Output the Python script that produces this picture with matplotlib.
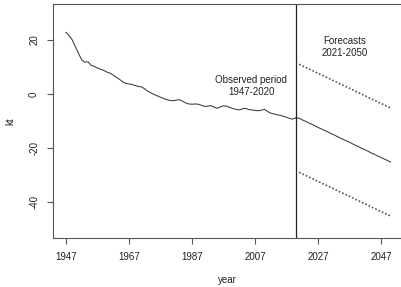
import matplotlib
matplotlib.use("Agg")
import matplotlib.pyplot as plt

plt.rcParams['font.family'] = ['Liberation Sans', 'DejaVu Sans']

# observed series 1947-2020 (kt)
obs_years = list(range(1947, 2021))
obs_values = [
    22.8, 21.6, 20.0, 17.5, 15.0, 12.6, 11.8, 11.9, 10.6, 10.2,
    9.6, 9.2, 8.7, 8.1, 7.7, 7.0, 6.2, 5.4, 4.5, 3.9,
    3.7, 3.5, 3.1, 2.8, 2.6, 1.9, 1.0, 0.4, -0.2, -0.7,
    -1.2, -1.7, -2.1, -2.4, -2.5, -2.3, -2.1, -2.7, -3.3, -3.7,
    -3.8, -3.7, -3.8, -4.2, -4.6, -4.5, -4.3, -4.9, -5.3, -4.8,
    -4.4, -4.5, -5.0, -5.4, -5.7, -5.9, -5.5, -5.3, -5.8, -5.9,
    -6.1, -6.2, -6.0, -5.7, -6.5, -7.1, -7.4, -7.7, -7.9, -8.3,
    -8.6, -9.1, -9.3, -8.8,
]

# forecasts 2021-2050 with bounds
fc_years = list(range(2021, 2051))
fc_mean = [
    -9.0, -9.6, -10.1, -10.7, -11.2, -11.8, -12.4, -12.9, -13.5, -14.0,
    -14.6, -15.1, -15.7, -16.3, -16.8, -17.4, -17.9, -18.5, -19.1, -19.6,
    -20.2, -20.7, -21.3, -21.9, -22.4, -23.0, -23.5, -24.1, -24.6, -25.2,
]
fc_upper = [
    11.0, 10.4, 9.9, 9.3, 8.8, 8.2, 7.6, 7.1, 6.5, 6.0,
    5.4, 4.9, 4.3, 3.7, 3.2, 2.6, 2.1, 1.5, 0.9, 0.4,
    -0.2, -0.7, -1.3, -1.9, -2.4, -3.0, -3.5, -4.1, -4.6, -5.2,
]
fc_lower = [
    -29.0, -29.6, -30.1, -30.7, -31.2, -31.8, -32.4, -32.9, -33.5, -34.0,
    -34.6, -35.1, -35.7, -36.3, -36.8, -37.4, -37.9, -38.5, -39.1, -39.6,
    -40.2, -40.7, -41.3, -41.9, -42.4, -43.0, -43.5, -44.1, -44.6, -45.2,
]

x_ticks = [1947, 1967, 1987, 2007, 2027, 2047]
y_ticks = [20, 0, -20, -40]

fig = plt.figure(figsize=(4.01, 2.87), dpi=100)
ax = fig.add_axes([53 / 401, 1 - 237.7 / 287, 1 - 53 / 401, (237.7 - 4) / 287])

line_col = '#3a3a3a'
ax.plot(obs_years, obs_values, color=line_col, lw=0.75)
ax.plot([obs_years[-1]] + fc_years, [obs_values[-1]] + fc_mean, color=line_col, lw=0.75)
ax.plot(fc_years, fc_upper, color='#555555', lw=1.2, linestyle=(0, (1, 1.2)))
ax.plot(fc_years, fc_lower, color='#555555', lw=1.2, linestyle=(0, (1, 1.2)))
ax.axvline(2020, color='#222222', lw=0.9)

ax.text(2005.8, 3.0, 'Observed period\n1947-2020', ha='center', va='center',
        fontsize=7, color='#222222', linespacing=1.2)
ax.text(2035.5, 17.4, 'Forecasts\n2021-2050', ha='center', va='center',
        fontsize=7, color='#222222', linespacing=1.2)

ax.set_xlim(1942.9, 2053.3)
ax.set_ylim(-53.2, 33.3)
ax.set_xticks(x_ticks)
ax.set_yticks(y_ticks)
ax.set_yticklabels([str(v) for v in y_ticks], rotation=90, va='center')
ax.tick_params(axis='both', labelsize=7, colors='#555555', labelcolor='#222222',
               length=4, width=0.8, pad=6)
ax.set_xlabel('year', fontsize=7, color='#222222', labelpad=10)
ax.set_ylabel('kt', fontsize=7, color='#222222', labelpad=10)

for s in ['left', 'bottom', 'top']:
    ax.spines[s].set_color('#555555')
    ax.spines[s].set_linewidth(0.8)
ax.spines['right'].set_visible(False)

fig.savefig('out.png', dpi=100)
